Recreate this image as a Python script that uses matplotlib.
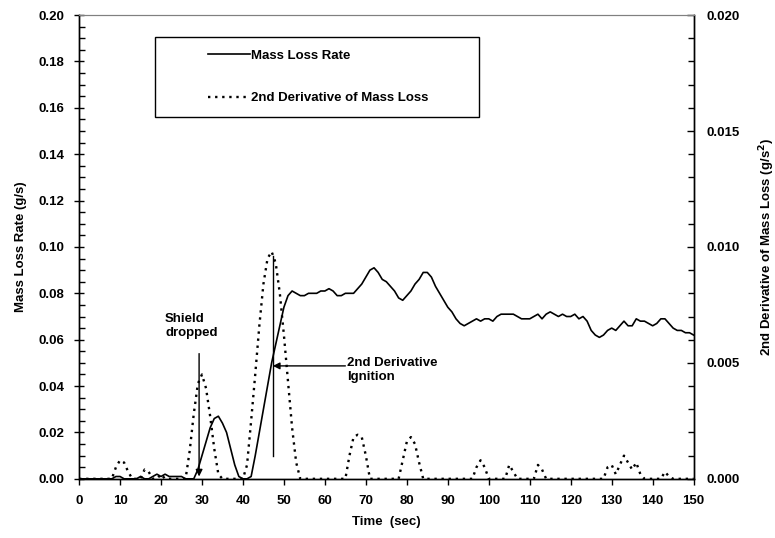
import matplotlib
matplotlib.use("Agg")
import matplotlib.pyplot as plt
from matplotlib.patches import Rectangle
from matplotlib.ticker import MultipleLocator, FormatStrFormatter

plt.rcParams['font.family'] = ['Liberation Sans', 'DejaVu Sans']
plt.rcParams['font.weight'] = 'bold'
plt.rcParams['font.size'] = 9.5

# time (s)
time_s = list(range(0, 151))

# mass loss rate (g/s), one reading per second
mass_loss_rate = [
    0.000, 0.000, 0.000, 0.000, 0.000, 0.000, 0.000, 0.000, 0.000, 0.001,
    0.001, 0.000, 0.000, 0.000, 0.000, 0.001, 0.000, 0.000, 0.001, 0.002,
    0.001, 0.002, 0.001, 0.001, 0.001, 0.001, 0.000, 0.000, 0.000, 0.004,
    0.010, 0.016, 0.022, 0.026, 0.027, 0.024, 0.020, 0.013, 0.006, 0.001,
    0.000, 0.000, 0.001, 0.010, 0.020, 0.030, 0.040, 0.050, 0.058, 0.066,
    0.074, 0.079, 0.081, 0.080, 0.079, 0.079, 0.080, 0.080, 0.080, 0.081,
    0.081, 0.082, 0.081, 0.079, 0.079, 0.080, 0.080, 0.080, 0.082, 0.084,
    0.087, 0.090, 0.091, 0.089, 0.086, 0.085, 0.083, 0.081, 0.078, 0.077,
    0.079, 0.081, 0.084, 0.086, 0.089, 0.089, 0.087, 0.083, 0.080, 0.077,
    0.074, 0.072, 0.069, 0.067, 0.066, 0.067, 0.068, 0.069, 0.068, 0.069,
    0.069, 0.068, 0.070, 0.071, 0.071, 0.071, 0.071, 0.070, 0.069, 0.069,
    0.069, 0.070, 0.071, 0.069, 0.071, 0.072, 0.071, 0.070, 0.071, 0.070,
    0.070, 0.071, 0.069, 0.070, 0.068, 0.064, 0.062, 0.061, 0.062, 0.064,
    0.065, 0.064, 0.066, 0.068, 0.066, 0.066, 0.069, 0.068, 0.068, 0.067,
    0.066, 0.067, 0.069, 0.069, 0.067, 0.065, 0.064, 0.064, 0.063, 0.063,
    0.062,
]

# second derivative of mass loss (g/s^2)
second_deriv = [
    0.0, 0.0, 0.0, 0.0, 0.0, 0.0, 0.0, 0.0, 0.0, 0.0005,
    0.0008, 0.0007, 0.0003, 0.0, 0.0, 0.0, 0.0004, 0.0003, 0.0, 0.0,
    0.0002, 0.0, 0.0, 0.0, 0.0, 0.0, 0.0, 0.0012, 0.0028, 0.0041,
    0.0045, 0.0039, 0.0027, 0.0013, 0.0002, 0.0, 0.0, 0.0, 0.0, 0.0,
    0.0, 0.0006, 0.0025, 0.0045, 0.0066, 0.0084, 0.0095, 0.0098, 0.0093, 0.0080,
    0.0062, 0.0042, 0.0022, 0.0007, 0.0, 0.0, 0.0, 0.0, 0.0, 0.0,
    0.0, 0.0, 0.0, 0.0, 0.0, 0.0, 0.0010, 0.0018, 0.0019, 0.0018,
    0.0010, 0.0, 0.0, 0.0, 0.0, 0.0, 0.0, 0.0, 0.0, 0.0008,
    0.0016, 0.0018, 0.0015, 0.0007, 0.0, 0.0, 0.0, 0.0, 0.0, 0.0,
    0.0, 0.0, 0.0, 0.0, 0.0, 0.0, 0.0, 0.0005, 0.0008, 0.0005,
    0.0, 0.0, 0.0, 0.0, 0.0, 0.0006, 0.0003, 0.0, 0.0, 0.0,
    0.0, 0.0, 0.0006, 0.0004, 0.0, 0.0, 0.0, 0.0, 0.0, 0.0,
    0.0, 0.0, 0.0, 0.0, 0.0, 0.0, 0.0, 0.0, 0.0, 0.0005,
    0.0006, 0.0002, 0.0006, 0.0010, 0.0007, 0.0004, 0.0007, 0.0002, 0.0, 0.0,
    0.0, 0.0, 0.0, 0.0003, 0.0001, 0.0, 0.0, 0.0, 0.0, 0.0,
    0.0,
]

shield_time = 29.3
ignition_time = 47.3
ignition_rate = 0.0487

fig = plt.figure(figsize=(7.75, 5.38), dpi=100)
ax = fig.add_axes([0.102, 0.110, 0.793, 0.862])
ax2 = ax.twinx()

ax.plot(time_s, mass_loss_rate, color='black', lw=1.2, label='Mass Loss Rate')
ax2.plot(time_s, second_deriv, color='black', lw=1.7, linestyle=(0, (1, 2.0)),
         label='2nd Derivative of Mass Loss')

ax.set_xlim(0, 150)
ax.set_ylim(0, 0.20)
ax2.set_ylim(0, 0.020)

ax.xaxis.set_major_locator(MultipleLocator(10))
ax.yaxis.set_major_locator(MultipleLocator(0.02))
ax.yaxis.set_minor_locator(MultipleLocator(0.005))
ax.yaxis.set_major_formatter(FormatStrFormatter('%.2f'))
ax2.yaxis.set_major_locator(MultipleLocator(0.005))
ax2.yaxis.set_minor_locator(MultipleLocator(0.001))
ax2.yaxis.set_major_formatter(FormatStrFormatter('%.3f'))

ax.tick_params(axis='x', direction='out', length=4, width=1, pad=8)
ax.tick_params(axis='y', which='major', direction='inout', length=7, width=1, pad=7)
ax.tick_params(axis='y', which='minor', direction='in', length=4, width=1)
ax2.tick_params(axis='y', which='major', direction='in', length=5, width=1, pad=9)
ax2.tick_params(axis='y', which='minor', direction='in', length=4, width=1)

for a in (ax, ax2):
    for side in ('left', 'right', 'bottom'):
        a.spines[side].set_linewidth(1.0)
        a.spines[side].set_color('black')
    a.spines['top'].set_color('#808080')
    a.spines['top'].set_linewidth(0.8)

ax.set_xlabel('Time  (sec)', fontweight='bold', labelpad=6)
ax.set_ylabel('Mass Loss Rate (g/s)', fontweight='bold', labelpad=8)
ax2.set_ylabel('2nd Derivative of Mass Loss (g/s$^\\mathbf{2}$)', fontweight='bold')
ax2.yaxis.set_label_coords(1.103, 0.5)

# annotations
ax.text(21.0, 0.0715, 'Shield\ndropped', ha='left', va='top', fontweight='bold', linespacing=1.25)
ax.annotate('', xy=(shield_time, 0.001), xytext=(shield_time, 0.054),
            arrowprops=dict(arrowstyle='-|>', color='black', lw=1.0,
                            mutation_scale=10, shrinkA=0, shrinkB=0))
ax.plot([ignition_time, ignition_time], [0.010, 0.096], color='black', lw=1.0)
ax.annotate('', xy=(ignition_time, ignition_rate), xytext=(65.0, ignition_rate),
            arrowprops=dict(arrowstyle='-|>', color='black', lw=1.0,
                            mutation_scale=10, shrinkA=0, shrinkB=0))
ax.text(65.5, 0.0525, '2nd Derivative\nIgnition', ha='left', va='top',
        fontweight='bold', linespacing=1.25)

# legend inside a plain box
h1, l1 = ax.get_legend_handles_labels()
h2, l2 = ax2.get_legend_handles_labels()
box = Rectangle((155 / 775, 1 - 117 / 538), (479 - 155) / 775, 80 / 538,
                transform=fig.transFigure, fill=True, facecolor='white',
                edgecolor='black', lw=1.0, zorder=5)
ax2.add_artist(box)
leg = ax2.legend(h1 + h2, l1 + l2, loc='center left',
                 bbox_to_anchor=(196 / 775, 1 - 77 / 538),
                 bbox_transform=fig.transFigure, frameon=False,
                 handlelength=3.2, handletextpad=0.1, labelspacing=2.3,
                 prop={'weight': 'bold', 'size': 9.5})
leg.set_zorder(6)

fig.savefig('out.png', dpi=100)
